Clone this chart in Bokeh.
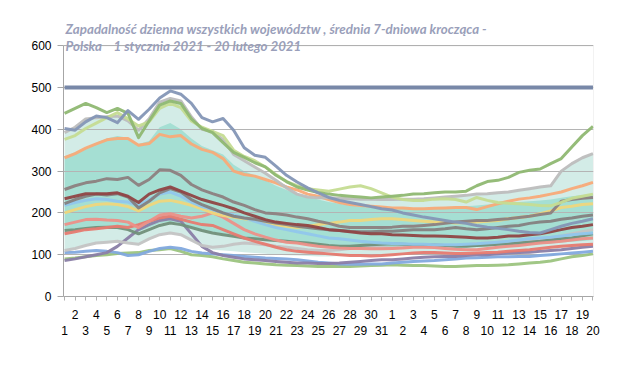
from bokeh.plotting import figure
from bokeh.models import Range1d, LinearAxis, FixedTicker, Label, ColumnDataSource, BoxAnnotation
from bokeh.embed import file_html
from bokeh.resources import INLINE

# ---------------- data ----------------
days_jan = [str(d) for d in range(1, 32)]
days_feb = [str(d) for d in range(1, 21)]
day_labels = days_jan + days_feb
x = list(range(len(day_labels)))

y_ticks = [0, 100, 200, 300, 400, 500, 600]

title_line1 = "Zapadalność dzienna wszystkich województw , średnia 7-dniowa krocząca -"
title_line2 = "Polska\u00a0\u00a0\u00a0 1 stycznia 2021 - 20 lutego 2021"

threshold = [500] * 51

# band (area) series
band_light_top = [392, 405, 425, 428, 430, 432, 420, 398, 425, 465, 474, 468, 430, 400, 395, 375, 340, 325, 310, 295,
                  278, 260, 245, 238, 236, 236, 235, 234, 233, 233, 232, 232, 233, 233, 234, 236, 238, 240, 242, 245,
                  246, 248, 250, 254, 258, 262, 265, 300, 318, 332, 342]
band_light_bottom = [108, 113, 120, 126, 128, 130, 126, 122, 136, 146, 150, 146, 133, 120, 112, 110, 108, 106, 104, 102,
                     100, 99, 98, 97, 96, 96, 97, 98, 99, 100, 100, 100, 101, 102, 103, 104, 104, 105, 106, 107,
                     108, 109, 110, 111, 112, 113, 114, 116, 118, 120, 122]
band_teal_top = [335, 345, 355, 368, 378, 384, 380, 365, 372, 405, 415, 400, 378, 360, 350, 340, 315, 300, 290, 278,
                 265, 255, 245, 238, 232, 226, 222, 218, 215, 213, 212, 212, 212, 212, 212, 213, 214, 215, 216, 218,
                 220, 222, 224, 226, 228, 230, 232, 236, 240, 243, 245]
band_teal_bottom = [160, 162, 165, 166, 168, 168, 165, 155, 165, 175, 178, 175, 168, 160, 155, 150, 146, 142, 138, 135,
                    132, 130, 128, 125, 122, 120, 118, 116, 116, 116, 116, 116, 117, 118, 118, 118, 118, 118, 118, 119,
                    120, 121, 122, 123, 124, 125, 127, 129, 131, 133, 135]

# voivodeship lines
s_slate = [402, 398, 418, 432, 428, 416, 445, 424, 448, 475, 492, 484, 462, 428, 418, 426, 398, 356, 338, 333,
           312, 290, 274, 260, 248, 237, 230, 225, 220, 215, 210, 207, 200, 195, 190, 186, 182, 178, 175, 170,
           166, 163, 160, 156, 153, 152, 160, 168, 175, 180, 186]
s_green = [438, 450, 462, 452, 440, 450, 438, 380, 420, 458, 468, 462, 425, 402, 392, 368, 345, 333, 320, 310,
           290, 275, 262, 255, 249, 245, 242, 240, 238, 236, 238, 240, 242, 245, 246, 248, 250, 250, 252, 265,
           275, 278, 285, 297, 302, 305, 318, 330, 358, 385, 407]
s_lightgreen = [376, 385, 402, 415, 428, 440, 425, 408, 418, 450, 462, 452, 420, 405, 395, 385, 350, 335, 325, 310,
                292, 275, 265, 258, 255, 252, 257, 262, 265, 258, 248, 238, 232, 230, 230, 233, 234, 232, 226, 237,
                230, 225, 223, 222, 220, 218, 217, 225, 235, 240, 245]
s_gray = band_light_top
s_orange = [332, 342, 355, 365, 375, 378, 378, 362, 366, 388, 382, 385, 365, 352, 345, 330, 300, 292, 288, 280,
            272, 262, 255, 245, 240, 232, 225, 220, 218, 216, 214, 212, 212, 210, 210, 211, 212, 213, 213, 208,
            215, 222, 228, 233, 236, 240, 245, 250, 258, 265, 273]
s_taupe = [256, 265, 272, 276, 282, 280, 285, 266, 280, 303, 302, 290, 268, 255, 246, 238, 226, 218, 208, 200,
           198, 195, 190, 186, 180, 175, 168, 165, 165, 165, 165, 166, 168, 168, 170, 172, 175, 178, 180, 182,
           182, 184, 186, 189, 192, 196, 200, 228, 232, 235, 237]
s_maroon = [234, 240, 246, 246, 246, 248, 240, 225, 245, 255, 262, 252, 242, 232, 225, 218, 210, 200, 192, 184,
            178, 175, 172, 170, 165, 160, 158, 155, 152, 150, 150, 148, 147, 146, 145, 145, 144, 143, 142, 140,
            140, 142, 145, 145, 148, 150, 155, 160, 165, 168, 172]
s_darkgray = [222, 232, 240, 245, 243, 246, 238, 212, 228, 248, 258, 250, 232, 220, 210, 200, 192, 188, 185, 180,
              176, 172, 168, 165, 162, 160, 158, 156, 155, 155, 156, 156, 158, 160, 160, 160, 162, 165, 162, 160,
              162, 165, 168, 170, 175, 178, 180, 185, 188, 192, 195]
s_lightblue = [218, 225, 230, 234, 232, 228, 226, 218, 232, 245, 250, 240, 226, 215, 208, 200, 195, 188, 180, 172,
               165, 160, 155, 150, 145, 140, 138, 135, 132, 130, 128, 127, 126, 125, 125, 124, 124, 124, 125, 126,
               128, 130, 132, 135, 138, 140, 142, 145, 148, 150, 152]
s_yellow = [200, 208, 215, 220, 222, 220, 215, 205, 218, 228, 230, 225, 218, 210, 200, 194, 190, 186, 182, 176,
            170, 168, 165, 168, 172, 175, 178, 182, 182, 184, 186, 186, 184, 182, 180, 178, 178, 176, 177, 178,
            180, 182, 186, 189, 192, 198, 205, 213, 216, 220, 222]
s_salmon = [172, 178, 184, 185, 183, 182, 178, 165, 180, 195, 198, 192, 188, 192, 200, 190, 175, 160, 150, 142,
            135, 130, 128, 124, 120, 118, 116, 115, 115, 114, 114, 115, 116, 118, 118, 117, 115, 113, 112, 112,
            115, 118, 120, 122, 125, 128, 130, 132, 135, 138, 140]
s_red = [150, 155, 160, 162, 165, 168, 165, 172, 180, 188, 192, 185, 178, 172, 170, 160, 150, 140, 132, 125,
         118, 112, 108, 106, 104, 102, 100, 98, 98, 97, 98, 100, 102, 104, 105, 105, 104, 103, 103, 104,
         105, 106, 108, 110, 112, 115, 118, 120, 122, 124, 125]
s_darkgreen = [158, 160, 163, 165, 166, 165, 160, 150, 160, 170, 176, 172, 165, 158, 152, 148, 144, 140, 138, 136,
               134, 132, 130, 128, 125, 122, 120, 120, 122, 124, 125, 126, 125, 124, 124, 123, 122, 120, 120, 122,
               123, 125, 126, 128, 130, 132, 135, 138, 140, 145, 150]
s_lightgray = [110, 115, 122, 128, 130, 132, 128, 125, 138, 148, 152, 148, 135, 122, 118, 120, 125, 128, 126, 124,
               120, 118, 115, 112, 110, 110, 112, 115, 118, 120, 118, 116, 118, 120, 122, 123, 122, 122, 124, 126,
               128, 130, 132, 134, 136, 138, 140, 145, 150, 155, 160]
s_purple = [86, 90, 95, 100, 105, 120, 140, 160, 172, 182, 186, 180, 150, 120, 105, 98, 94, 90, 88, 86,
            84, 82, 80, 80, 79, 79, 80, 82, 84, 86, 88, 88, 90, 92, 94, 95, 96, 96, 98, 100,
            100, 102, 104, 105, 106, 108, 110, 112, 115, 118, 120]
s_blue = [105, 106, 108, 110, 108, 105, 98, 100, 108, 115, 118, 115, 108, 104, 102, 100, 98, 96, 94, 92,
          91, 90, 88, 85, 82, 80, 78, 77, 77, 78, 78, 80, 82, 84, 85, 86, 88, 90, 92, 93,
          94, 95, 95, 96, 96, 98, 100, 102, 104, 106, 108]
s_lowgreen = [90, 92, 95, 98, 100, 103, 104, 105, 110, 112, 115, 108, 100, 98, 95, 90, 86, 82, 80, 78,
              76, 75, 74, 73, 72, 72, 72, 72, 73, 74, 75, 76, 75, 74, 74, 73, 72, 72, 73, 74,
              74, 75, 76, 78, 80, 82, 85, 90, 95, 98, 102]

line_series = [
    (s_lowgreen, "#9cc47f"),
    (s_blue, "#82a9de"),
    (s_purple, "#8a7ea6"),
    (s_lightgray, "#c4c4c4"),
    (s_darkgreen, "#71907a"),
    (s_red, "#e67a70"),
    (s_salmon, "#ec9088"),
    (s_yellow, "#eed67c"),
    (s_lightblue, "#90c6ec"),
    (s_darkgray, "#848080"),
    (s_maroon, "#8f4545"),
    (s_taupe, "#8c7f7f"),
    (s_orange, "#f8aa78"),
    (s_gray, "#bdbdbd"),
    (s_lightgreen, "#c5dc92"),
    (s_green, "#8fb872"),
    (s_slate, "#8496b6"),
]

# ---------------- figure ----------------
p = figure(width=610, height=350, output_backend="svg", toolbar_location=None,
           x_range=Range1d(-0.1, 50.05), y_range=Range1d(0, 670),
           min_border_left=63, min_border_right=17, min_border_top=16, min_border_bottom=54)
p.background_fill_color = "white"
p.border_fill_color = "white"
p.outline_line_color = None
p.grid.visible = False

src = ColumnDataSource(dict(x=x, lt=band_light_top, lb=band_light_bottom,
                            tt=band_teal_top, tb=band_teal_bottom, thr=threshold))
p.varea(x="x", y1="lb", y2="lt", source=src, fill_color="#d3ece7")
p.varea(x="x", y1="tb", y2="tt", source=src, fill_color="#a5dfd3")

p.hspan(y=y_ticks[1:], line_color="#b4b4b4", line_width=1)

for ys, col in line_series:
    p.line(x, ys, line_color=col, line_width=3, line_alpha=0.95, line_join="round")

p.line(x="x", y="thr", source=src, line_color="#7888a8", line_width=4)

# plot-area border (0..600)
p.add_layout(BoxAnnotation(left=-0.1, right=50.05, bottom=0, top=600, fill_alpha=0,
                           line_color="#a6a6a6", line_width=1))

# y axis
ya = p.yaxis[0]
ya.ticker = FixedTicker(ticks=y_ticks)
ya.bounds = (0, 600)
ya.axis_line_color = "#a6a6a6"
ya.major_tick_line_color = "#a6a6a6"
ya.major_tick_in = 0
ya.major_tick_out = 6
ya.minor_tick_line_color = None
ya.major_label_standoff = 6
ya.major_label_text_font = "Liberation Sans"
ya.major_label_text_font_size = "12px"
ya.major_label_text_color = "black"

# x axis: two staggered rows
xa = p.xaxis[0]
xa.ticker = FixedTicker(ticks=x)
xa.major_label_overrides = {i: (day_labels[i] if i % 2 == 1 else "") for i in x}
xa.axis_line_color = "#a6a6a6"
xa.major_tick_line_color = "#b0b0b0"
xa.major_tick_in = 0
xa.major_tick_out = 4
xa.minor_tick_line_color = None
xa.major_label_standoff = 9
xa.major_label_text_font = "Liberation Sans"
xa.major_label_text_font_size = "12px"
xa.major_label_text_color = "black"

xb = LinearAxis(ticker=FixedTicker(ticks=[i for i in x if i % 2 == 0]),
                major_label_overrides={i: day_labels[i] for i in x if i % 2 == 0},
                axis_line_color=None, major_tick_line_color=None, minor_tick_line_color=None,
                major_tick_in=0, major_tick_out=0, major_label_standoff=4,
                major_label_text_font="Liberation Sans", major_label_text_font_size="12px",
                major_label_text_color="black")
p.add_layout(xb, "below")

# title
for txt, yy in [(title_line1, 641), (title_line2, 600)]:
    p.add_layout(Label(x=0.1, y=yy, text=txt, text_font="Lato", text_font_style="bold italic",
                       text_font_size="13.3px", text_color="#9a9fba", text_baseline="middle"))

open("out.html", "w").write(file_html(p, INLINE))
